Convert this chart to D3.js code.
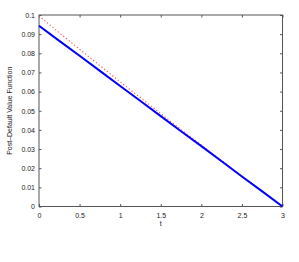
<!DOCTYPE html>
<html>
<head>
<meta charset="utf-8">
<script src="https://cdn.jsdelivr.net/npm/d3@7"></script>
<style>
  body { margin: 0; background: #fff; }
  svg { display: block; }
  text { font-family: "Liberation Sans", Arial, sans-serif; font-size: 7px; fill: #222; }
</style>
</head>
<body>
<svg width="299" height="262"></svg>
<script>
  // time grid (years)
  const tValues = [0, 0.25, 0.5, 0.75, 1, 1.25, 1.5, 1.75, 2, 2.25, 2.5, 2.75, 3];
  // solid blue series
  const valueSolid = [0.0944, 0.0865, 0.0787, 0.0708, 0.0629, 0.0551, 0.0472, 0.0393, 0.0315, 0.0236, 0.0157, 0.0079, 0];
  // dotted red series
  const valueDotted = [0.0995, 0.0907, 0.0821, 0.0736, 0.0651, 0.0568, 0.0485, 0.0402, 0.0321, 0.024, 0.0159, 0.008, 0];

  const xTicks = [0, 0.5, 1, 1.5, 2, 2.5, 3];
  const yTicks = [0, 0.01, 0.02, 0.03, 0.04, 0.05, 0.06, 0.07, 0.08, 0.09, 0.1];

  const svg = d3.select("svg");
  const plotL = 39, plotR = 282.5, plotT = 15, plotB = 206.5;

  const x = d3.scaleLinear().domain([0, 3]).range([plotL, plotR]);
  const y = d3.scaleLinear().domain([0, 0.1]).range([plotB, plotT]);

  const axisColor = "#555";
  const tickLen = 2.5;

  // box
  svg.append("rect")
    .attr("x", plotL).attr("y", plotT)
    .attr("width", plotR - plotL).attr("height", plotB - plotT)
    .attr("fill", "none").attr("stroke", axisColor).attr("stroke-width", 1);

  // bottom axis + top ticks
  const xAxis = d3.axisBottom(x).tickValues(xTicks).tickSizeInner(-tickLen).tickSizeOuter(0)
    .tickFormat(d3.format("~g"));
  const gx = svg.append("g").attr("transform", `translate(0,${plotB})`).call(xAxis);
  const gxTop = svg.append("g").attr("transform", `translate(0,${plotT})`)
    .call(d3.axisTop(x).tickValues(xTicks).tickSizeInner(-tickLen).tickSizeOuter(0).tickFormat(""));

  // left axis + right ticks
  const yAxis = d3.axisLeft(y).tickValues(yTicks).tickSizeInner(-tickLen).tickSizeOuter(0)
    .tickFormat(d3.format("~g"));
  const gy = svg.append("g").attr("transform", `translate(${plotL},0)`).call(yAxis);
  const gyRight = svg.append("g").attr("transform", `translate(${plotR},0)`)
    .call(d3.axisRight(y).tickValues(yTicks).tickSizeInner(-tickLen).tickSizeOuter(0).tickFormat(""));

  [gx, gxTop, gy, gyRight].forEach(g => {
    g.select(".domain").remove();
    g.selectAll("line").attr("stroke", axisColor);
    g.selectAll("text").attr("font-size", null).attr("font-family", null).attr("fill", "#222");
  });
  gx.selectAll("text").attr("dy", "0.71em").attr("y", 7);
  gy.selectAll("text").attr("x", -4);

  const pts = (vals) => tValues.map((t, i) => [t, vals[i]]);
  const line = d3.line().x(d => x(d[0])).y(d => y(d[1]));

  svg.append("path")
    .attr("d", line(pts(valueDotted)))
    .attr("fill", "none").attr("stroke", "#ff4d4d").attr("stroke-width", 1.1)
    .attr("stroke-dasharray", "1.2,2.3");

  svg.append("path")
    .attr("d", line(pts(valueSolid)))
    .attr("fill", "none").attr("stroke", "#0000ff").attr("stroke-width", 2);

  // labels
  svg.append("text")
    .attr("x", (plotL + plotR) / 2).attr("y", 226)
    .attr("text-anchor", "middle").text("t");

  svg.append("text")
    .attr("transform", `translate(12,${(plotT + plotB) / 2}) rotate(-90)`)
    .attr("text-anchor", "middle").text("Post–Default Value Function");
</script>
</body>
</html>
